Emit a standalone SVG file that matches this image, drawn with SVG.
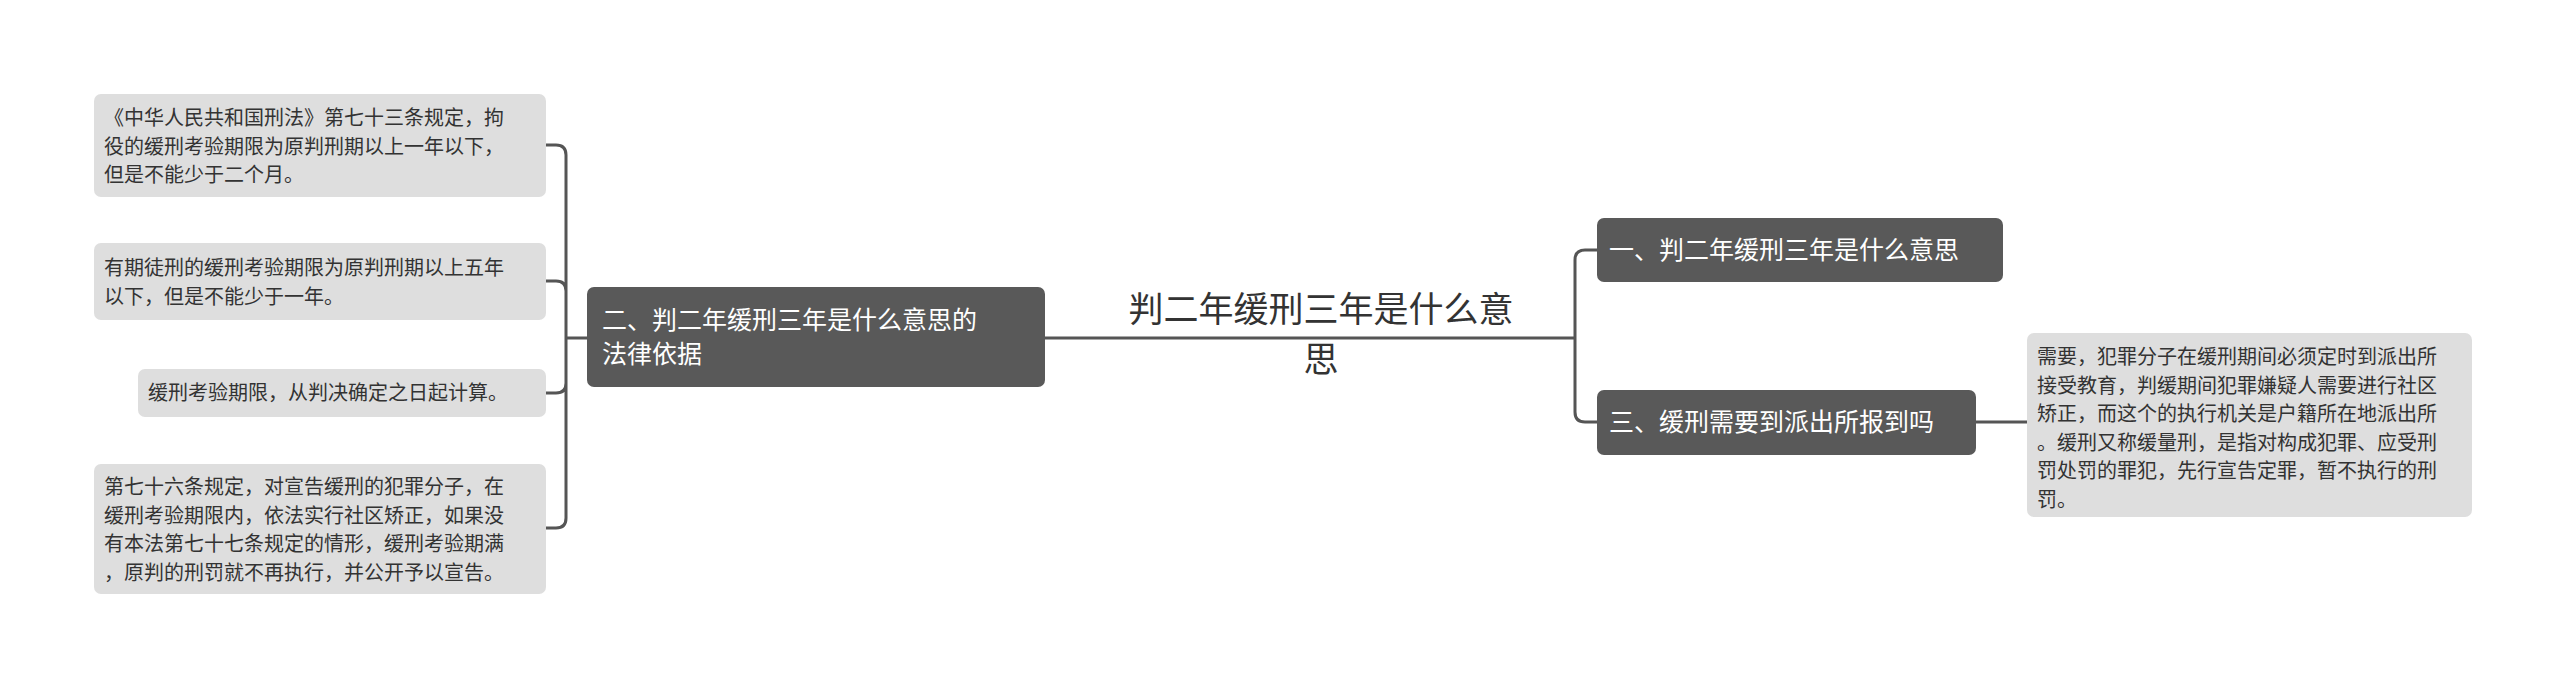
<svg xmlns="http://www.w3.org/2000/svg" width="2560" height="685" viewBox="0 0 2560 685">
<style>
text{font-family:"Noto Sans CJK SC","Noto Sans",sans-serif}
.leaf rect{fill:#dedede}
.leaf text{font-size:20px;fill:#333}
.br rect{fill:#595959}
.br text{font-size:25px;fill:#fff}
.c{fill:none;stroke:#555;stroke-width:3}
</style>
<rect width="2560" height="685" fill="#fff"/>
<g id="connectors">
<path class="c" d="M1045 338H1575M1597 250h-12q-10 0-10 10v152q0 10 10 10h12"/>
<path class="c" d="M1976 422H2027"/>
<path class="c" d="M587 338H566M546 145h10q10 0 10 10v363q0 10-10 10h-10M546 281h10q10 0 10 10M546 393h10q10 0 10-10"/>
</g>
<g id="center"><text x="1321" y="322" font-size="35" text-anchor="middle" fill="#333">判二年缓刑三年是什么意</text><text x="1321" y="372" font-size="35" text-anchor="middle" fill="#333">思</text></g>
<g id="b2" class="br"><rect x="587" y="287" width="458" height="100" rx="7"/><text x="602" y="329">二、判二年缓刑三年是什么意思的</text><text x="602" y="363">法律依据</text></g>
<g id="b1" class="br"><rect x="1597" y="218" width="406" height="64" rx="7"/><text x="1609" y="259">一、判二年缓刑三年是什么意思</text></g>
<g id="b3" class="br"><rect x="1597" y="390" width="379" height="65" rx="7"/><text x="1609" y="431">三、缓刑需要到派出所报到吗</text></g>
<g id="l1" class="leaf"><rect x="94" y="94" width="452" height="103" rx="7"/><text x="104" y="125">《中华人民共和国刑法》第七十三条规定，拘</text><text x="104" y="154">役的缓刑考验期限为原判刑期以上一年以下，</text><text x="104" y="182">但是不能少于二个月。</text></g>
<g id="l2" class="leaf"><rect x="94" y="243" width="452" height="77" rx="7"/><text x="104" y="275">有期徒刑的缓刑考验期限为原判刑期以上五年</text><text x="104" y="304">以下，但是不能少于一年。</text></g>
<g id="l3" class="leaf"><rect x="138" y="369" width="408" height="48" rx="7"/><text x="148" y="400">缓刑考验期限，从判决确定之日起计算。</text></g>
<g id="l4" class="leaf"><rect x="94" y="464" width="452" height="130" rx="7"/><text x="104" y="494">第七十六条规定，对宣告缓刑的犯罪分子，在</text><text x="104" y="523">缓刑考验期限内，依法实行社区矫正，如果没</text><text x="104" y="551">有本法第七十七条规定的情形，缓刑考验期满</text><text x="104" y="580">，原判的刑罚就不再执行，并公开予以宣告。</text></g>
<g id="l5" class="leaf"><rect x="2027" y="333" width="445" height="184" rx="7"/><text x="2037" y="364">需要，犯罪分子在缓刑期间必须定时到派出所</text><text x="2037" y="393">接受教育，判缓期间犯罪嫌疑人需要进行社区</text><text x="2037" y="421">矫正，而这个的执行机关是户籍所在地派出所</text><text x="2037" y="450">。缓刑又称缓量刑，是指对构成犯罪、应受刑</text><text x="2037" y="478">罚处罚的罪犯，先行宣告定罪，暂不执行的刑</text><text x="2037" y="507">罚。</text></g>
</svg>
